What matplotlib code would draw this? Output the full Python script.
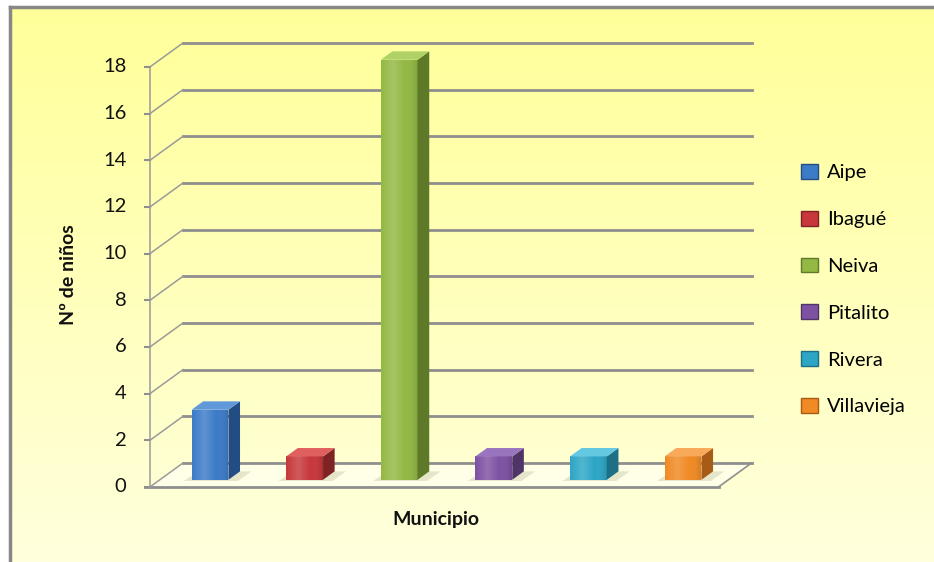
import numpy as np
import matplotlib
matplotlib.use('Agg')
import matplotlib.pyplot as plt
from matplotlib.patches import Polygon, Patch

plt.rcParams['font.family'] = ['Lato', 'DejaVu Sans']

# Datos del gráfico
municipios = ['Aipe', 'Ibagué', 'Neiva', 'Pitalito', 'Rivera', 'Villavieja']
ninos = [3, 1, 18, 1, 1, 1]
y_ticks = [0, 2, 4, 6, 8, 10, 12, 14, 16, 18]
color_frente = ['#3C7BC8', '#C7373B', '#93B843', '#7D52A3', '#2DA6C6', '#F08A24']
color_arriba = ['#6198DA', '#E0605F', '#B0D166', '#9975C0', '#63C8E0', '#F8A95A']
color_lado = ['#244C84', '#7E2224', '#5E7A28', '#4F3468', '#1D6F86', '#A85B14']

# Geometría de la perspectiva (en unidades de datos)
XLEFT, XRIGHT = -0.53, 5.48
DX, DY = 0.35, 1.03      # profundidad de la pared del fondo
D0, D1 = 0.30, 0.65      # profundidad de las barras
BW = 0.39
GRID = '#8E8E8E'

fig = plt.figure(figsize=(9.34, 5.62), dpi=100)

# Fondo con degradado amarillo
bg = fig.add_axes([0, 0, 1, 1])
bg.set_xlim(0, 934)
bg.set_ylim(562, 0)
bg.axis('off')
grad = np.linspace(0, 1, 256).reshape(-1, 1)
cmap = matplotlib.colors.LinearSegmentedColormap.from_list('fondo', ['#FFFF99', '#FFFFDD'])
bg.imshow(grad, cmap=cmap, extent=[10, 934, 562, 7], aspect='auto', zorder=0)
bg.plot([10, 10], [7, 562], color='#878787', lw=2.5, zorder=1)
bg.plot([10, 934], [7, 7], color='#878787', lw=2.5, zorder=1)

ax = fig.add_axes([0.1129, 0.0712, 0.7597, 0.8927])
ax.set_xlim(-1.0, 6.5)
ax.set_ylim(-1.5, 20)
ax.axis('off')
ax.patch.set_alpha(0)

# Suelo
floor = Polygon([(XLEFT, 0), (XRIGHT, 0), (XRIGHT + DX, DY), (XLEFT + DX, DY)],
                closed=True, facecolor='#FFFFE8', edgecolor='none', zorder=1)
ax.add_patch(floor)
ax.plot([XLEFT - 0.05, XRIGHT], [0, 0], color=GRID, lw=2, zorder=2)
ax.plot([XRIGHT, XRIGHT + DX], [0, DY], color=GRID, lw=1.2, zorder=2)

# Líneas de cuadrícula (pared del fondo y lateral)
for v in y_ticks:
    ax.plot([XLEFT + DX, XRIGHT + DX], [v + DY, v + DY], color=GRID, lw=2, zorder=2)
    ax.plot([XLEFT, XLEFT + DX], [v, v + DY], color='#9A9A9A', lw=1.1, zorder=2)
    ax.plot([XLEFT - 0.05, XLEFT], [v, v], color=GRID, lw=1.5, zorder=2)
    ax.text(XLEFT - 0.25, v, str(v), ha='right', va='center', fontsize=14.5, color='#111111')
ax.plot([XLEFT, XLEFT], [0, y_ticks[-1]], color='#9A9A9A', lw=1.1, zorder=2)

# Barras 3D
for i, (v, cf, ca, cl) in enumerate(zip(ninos, color_frente, color_arriba, color_lado)):
    x0 = i - BW / 2 + D0 * DX
    x1 = i + BW / 2 + D0 * DX
    y0 = D0 * DY
    ox = (D1 - D0) * DX
    oy = (D1 - D0) * DY
    # sombra
    sh = Polygon([(x0 - 0.08, y0 - 0.05), (x1 + 0.1, y0 - 0.05), (x1 + ox + 0.12, y0 + oy),
                  (x0 + ox - 0.05, y0 + oy)], closed=True, facecolor='#9A9A70', alpha=0.25,
                 edgecolor='none', zorder=3)
    ax.add_patch(sh)
    front = Polygon([(x0, y0), (x1, y0), (x1, y0 + v), (x0, y0 + v)], closed=True,
                    facecolor=cf, edgecolor='none', zorder=4)
    ax.add_patch(front)
    # brillo central del frente
    cmap_b = matplotlib.colors.LinearSegmentedColormap.from_list(
        'b', [(1, 1, 1, 0.0), (1, 1, 1, 0.18), (1, 1, 1, 0.0), (0, 0, 0, 0.12)])
    im = ax.imshow(np.linspace(0, 1, 64).reshape(1, -1), cmap=cmap_b, aspect='auto',
                   extent=[x0, x1, y0, y0 + v], zorder=5)
    im.set_clip_path(front)
    side = Polygon([(x1, y0), (x1 + ox, y0 + oy), (x1 + ox, y0 + v + oy), (x1, y0 + v)],
                   closed=True, facecolor=cl, edgecolor='none', zorder=4)
    ax.add_patch(side)
    top = Polygon([(x0, y0 + v), (x1, y0 + v), (x1 + ox, y0 + v + oy), (x0 + ox, y0 + v + oy)],
                  closed=True, facecolor=ca, edgecolor='none', zorder=4)
    ax.add_patch(top)

ax.set_xlim(-1.0, 6.5)
ax.set_ylim(-1.5, 20)

# Títulos de ejes
fig.text(68 / 934, 1 - 275 / 562, 'Nº de niños', rotation=90, ha='center', va='center',
         fontsize=14, fontweight='bold', color='#111111')
fig.text(436 / 934, 1 - 519 / 562, 'Municipio', ha='center', va='center',
         fontsize=14, fontweight='bold', color='#111111')

# Leyenda
handles = [Patch(facecolor=cf, edgecolor=cl, linewidth=1) for cf, cl in zip(color_frente, color_lado)]
fig.legend(handles, municipios, loc='upper left', bbox_to_anchor=(801 / 934, 1 - 164 / 562),
           frameon=False, fontsize=14.5, handlelength=0.85, handleheight=0.75,
           handletextpad=0.45, labelspacing=1.46, borderaxespad=0, borderpad=0)

fig.savefig('out.png', dpi=100)
